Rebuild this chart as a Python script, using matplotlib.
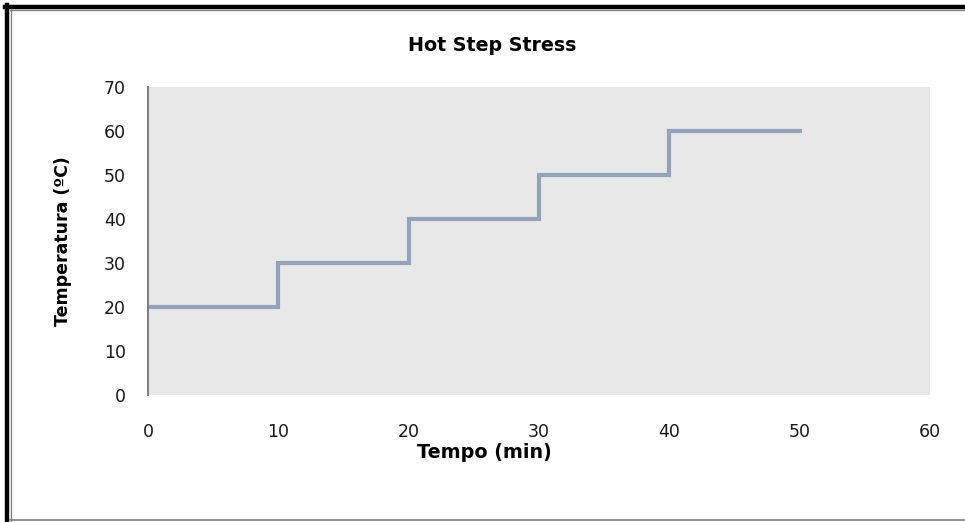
import matplotlib

matplotlib.use("Agg")
import matplotlib.pyplot as plt
from matplotlib.lines import Line2D

# step profile: temperature held for 10 min at each level
tempo = [0, 10, 10, 20, 20, 30, 30, 40, 40, 50]
temperatura = [20, 20, 30, 30, 40, 40, 50, 50, 60, 60]

x_ticks = [0, 10, 20, 30, 40, 50, 60]
y_ticks = [0, 10, 20, 30, 40, 50, 60, 70]

W, H = 965, 522
LABEL_FONT = "DejaVu Sans"


def main():
    fig = plt.figure(figsize=(W / 100, H / 100), dpi=100)
    fig.patch.set_facecolor("white")

    # axes box in pixels: left 148, right 930, top 87, bottom 395
    ax = fig.add_axes([148 / W, 1 - 395 / H, (930 - 148) / W, (395 - 87) / H])
    ax.set_facecolor("#E8E8E8")
    ax.plot(tempo, temperatura, color="#94A3BA", lw=3.0, solid_joinstyle="miter")

    ax.set_xlim(0, 60)
    ax.set_ylim(0, 70)
    ax.set_xticks(x_ticks)
    ax.set_yticks(y_ticks)
    ax.tick_params(length=0, labelsize=12.5, colors="#1a1a1a")
    ax.tick_params(axis="x", pad=20)
    ax.tick_params(axis="y", pad=16)
    for s in ["top", "right", "bottom"]:
        ax.spines[s].set_visible(False)
    ax.spines["left"].set_color("#808080")
    ax.spines["left"].set_linewidth(1.5)

    ax.set_xlabel("Tempo (min)", fontsize=13.8, fontweight="bold", family=LABEL_FONT)
    ax.set_ylabel("Temperatura (ºC)", fontsize=12.5, fontweight="bold", family=LABEL_FONT)
    ax.xaxis.set_label_coords((484 - 148) / 782, (395 - 452) / 308)
    ax.yaxis.set_label_coords((63 - 148) / 782, (395 - 241) / 308)
    ax.xaxis.label.set_va("center")
    ax.yaxis.label.set_va("center")
    fig.text(492 / W, 1 - 45 / H, "Hot Step Stress", ha="center", va="center",
             fontsize=13.7, fontweight="bold", family=LABEL_FONT)

    # frame around the chart
    def hline(y, x0, x1, color, lw):
        fig.add_artist(Line2D([x0 / W, x1 / W], [1 - y / H, 1 - y / H],
                              color=color, lw=lw, transform=fig.transFigure))

    def vline(x, y0, y1, color, lw):
        fig.add_artist(Line2D([x / W, x / W], [1 - y0 / H, 1 - y1 / H],
                              color=color, lw=lw, transform=fig.transFigure))

    hline(7, 5, W, "black", 3.2)
    hline(10, 10, W, "#808080", 1.0)
    vline(6.5, 5, H, "black", 3.2)
    vline(10.5, 9, H, "#808080", 1.0)
    hline(519.5, 10, W, "#808080", 1.2)

    fig.savefig("out.png", dpi=100)


if __name__ == "__main__":
    main()
